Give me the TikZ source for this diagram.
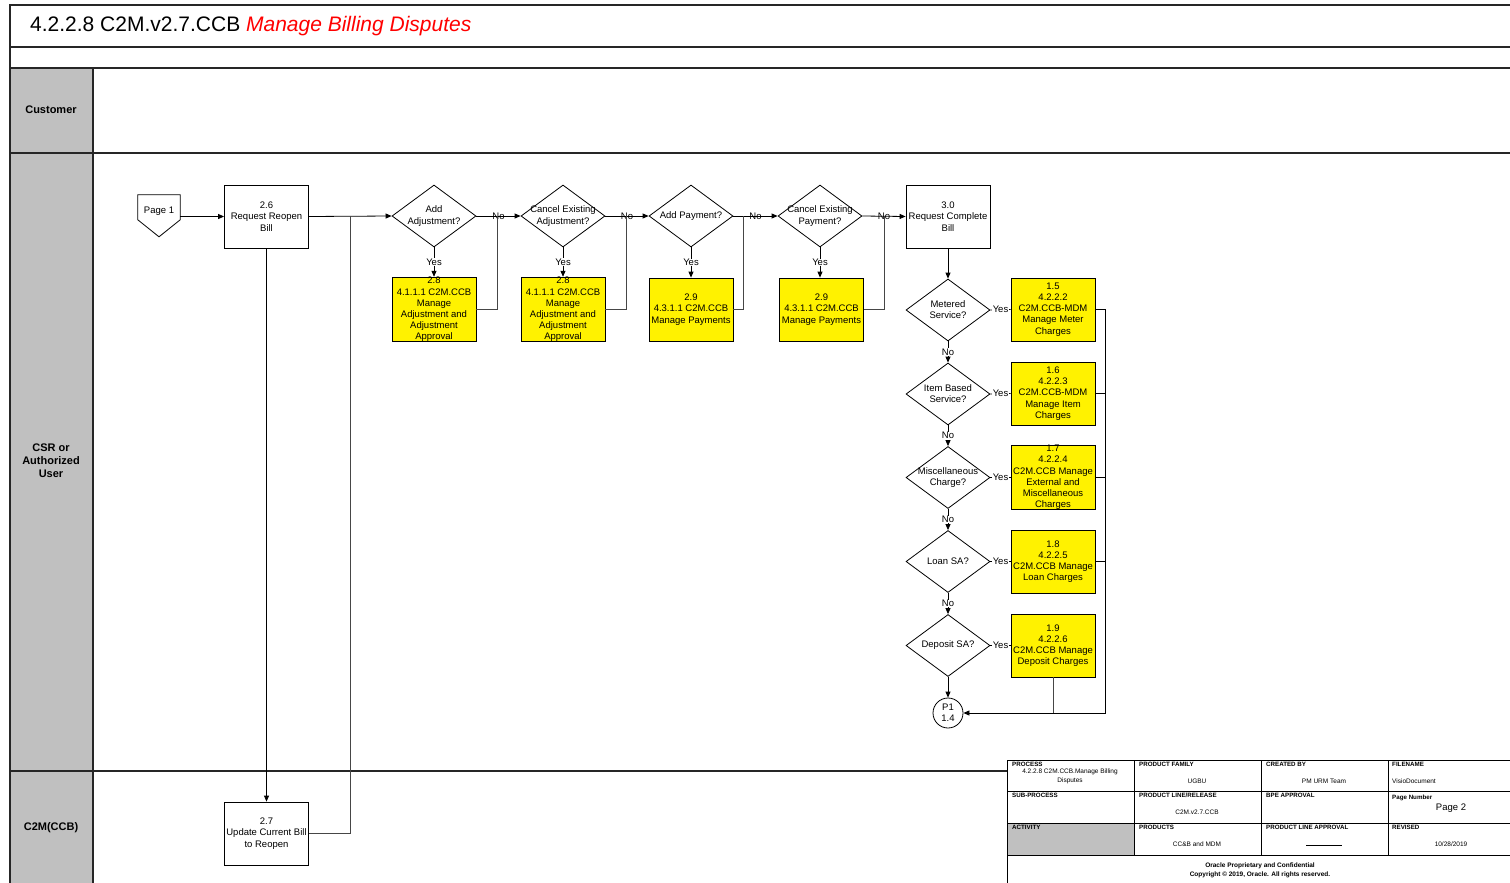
\documentclass[tikz,border=0pt]{standalone}
\usepackage{fontspec}
\setmainfont{Liberation Sans}
\usetikzlibrary{shapes.geometric,arrows.meta,calc}
\definecolor{lanegray}{RGB}{192,192,192}
\definecolor{linegray}{RGB}{70,70,70}
\tikzset{
  frame/.style={line width=1.2pt, draw=black!85},
  procbox/.style={draw, fill=white, line width=0.8pt, minimum width=84pt, minimum height=63pt, inner sep=0pt, align=center, font=\fontsize{9.5}{11.2}\selectfont},
  subbox/.style={procbox, fill=yellow},
  decision/.style={draw, diamond, fill=white, line width=0.8pt, aspect=1.355, minimum width=84pt, minimum height=62pt, inner sep=-3pt, align=center, font=\fontsize{9.5}{11.2}\selectfont},
  flow/.style={-{Triangle[length=6pt,width=5pt]}, line width=0.8pt},
  back/.style={line width=0.9pt, draw=linegray},
  lbl/.style={font=\fontsize{9.5}{11.2}\selectfont, inner sep=0.5pt},
  lane/.style={font=\fontsize{11}{13}\selectfont\bfseries, align=center},
  tbl/.style={line width=0.7pt},
  cellhead/.style={font=\fontsize{6.2}{7}\selectfont\bfseries, anchor=north west, inner sep=0pt},
  cell/.style={font=\fontsize{6.5}{9}\selectfont, inner sep=0pt, align=center}
}
\begin{document}
\begin{tikzpicture}[x=1pt, y=-1pt]
\useasboundingbox (0,0) rectangle (1510,883);
% swimlanes
\fill[lanegray] (10,68) rectangle (93,883);
\draw[frame] (1510,5) -- (10,5) -- (10,883);
\draw[frame] (10,47) -- (1510,47);
\draw[frame] (10,68) -- (1510,68);
\draw[frame] (10,153) -- (1510,153);
\draw[frame] (10,771) -- (1510,771);
\draw[frame] (93,68) -- (93,883);
\node[anchor=west, inner sep=0pt, font=\fontsize{21}{24}\selectfont] (title) at (30,26) {4.2.2.8 C2M.v2.7.CCB \textcolor{red}{\itshape Manage Billing Disputes}};
\node[lane] (custlane) at (51,110) {Customer};
\node[lane] (csrlane) at (51,461) {CSR or\\Authorized\\User};
\node[lane] (ccblane) at (51,828) {C2M(CCB)};

% first row
\node[minimum width=42pt, minimum height=32pt, inner sep=0pt, font=\fontsize{9.5}{11.2}\selectfont] (page1) at (159,211) {Page 1};
\draw[line width=0.8pt] (page1.north west) -- (page1.north east) -- ++(0,25) -- ($(page1.north)+(0,42)$) -- ($(page1.north west)+(0,25)$) -- cycle;
\node[procbox] (reopen) at (266.5,216.5) {2.6\\Request Reopen\\Bill};
\node[decision] (addadj) at (434,216) {Add\\Adjustment?};
\node[subbox] (adjbox1) at (434,309.5) {2.8\\4.1.1.1 C2M.CCB\\Manage\\Adjustment and\\Adjustment\\Approval};
\node[decision] (canadj) at (563,216) {Cancel Existing\\Adjustment?};
\node[subbox] (adjbox2) at (563,309.5) {2.8\\4.1.1.1 C2M.CCB\\Manage\\Adjustment and\\Adjustment\\Approval};
\node[decision] (addpay) at (691,216) {Add Payment?};
\node[subbox] (paybox1) at (691,309.5) {2.9\\4.3.1.1 C2M.CCB\\Manage Payments};
\node[decision] (canpay) at (820,216) {Cancel Existing\\Payment?};
\node[subbox] (paybox2) at (821.5,309.5) {2.9\\4.3.1.1 C2M.CCB\\Manage Payments};
\node[procbox] (complete) at (948,216.5) {3.0\\Request Complete\\Bill};

% charge checks
\node[decision] (metered) at (948,310) {Metered\\Service?};
\node[subbox] (meterbox) at (1053,309.5) {1.5\\4.2.2.2\\C2M.CCB-MDM\\Manage Meter\\Charges};
\node[decision] (itemsvc) at (948,394) {Item Based\\Service?};
\node[subbox] (itembox) at (1053,393.5) {1.6\\4.2.2.3\\C2M.CCB-MDM\\Manage Item\\Charges};
\node[decision] (misc) at (948,477.5) {Miscellaneous\\Charge?};
\node[subbox] (miscbox) at (1053,477.5) {1.7\\4.2.2.4\\C2M.CCB Manage\\External and\\Miscellaneous\\Charges};
\node[decision] (loan) at (948,561.5) {Loan SA?};
\node[subbox] (loanbox) at (1053,561.5) {1.8\\4.2.2.5\\C2M.CCB Manage\\Loan Charges};
\node[decision] (deposit) at (948,645.5) {Deposit SA?};
\node[subbox] (depbox) at (1053,645.5) {1.9\\4.2.2.6\\C2M.CCB Manage\\Deposit Charges};
\node[circle, draw, fill=white, line width=0.8pt, minimum size=30pt, inner sep=0pt, align=center, font=\fontsize{9.5}{11.2}\selectfont] (p1) at (948,713) {P1\\1.4};

\node[procbox] (update) at (266.5,833.5) {2.7\\Update Current Bill\\to Reopen};

% junctions
\coordinate (j0) at (350,216);
\coordinate (j1) at (497,216);
\coordinate (j2) at (626,216);
\coordinate (j3) at (743,216);
\coordinate (j4) at (884,216);
\coordinate (rj) at (1105,713);

% connectors
\draw[flow] (page1.east |- reopen.west) -- (reopen.west);
\draw[flow] (reopen.east) -- (addadj.west);
\draw[flow] (reopen.south) -- (update.north);
\draw[back] (update.east) -| (j0);
\draw[flow] (addadj.south) -- node[lbl, fill=white] {Yes} (adjbox1.north);
\draw[flow] (addadj.east) -- node[lbl] {No} (canadj.west);
\draw[back] (adjbox1.east) -| (j1);
\draw[flow] (canadj.south) -- node[lbl, fill=white] {Yes} (adjbox2.north);
\draw[flow] (canadj.east) -- node[lbl] {No} (addpay.west);
\draw[back] (adjbox2.east) -| (j2);
\draw[flow] (addpay.south) -- node[lbl, fill=white] {Yes} (paybox1.north);
\draw[flow] (addpay.east) -- node[lbl] {No} (canpay.west);
\draw[back] (paybox1.east) -| (j3);
\draw[flow] (canpay.south) -- node[lbl, fill=white] {Yes} (paybox1.north -| canpay.south);
\draw[flow] (canpay.east) -- node[lbl] {No} (complete.west);
\draw[back] (paybox2.east) -| (j4);
\draw[flow] (complete.south) -- (metered.north);
\draw[line width=0.8pt] (metered.east) -- node[lbl, fill=white] {Yes} (meterbox.west);
\draw[flow] (metered.south) -- node[lbl, fill=white] {No} (itemsvc.north);
\draw[line width=0.8pt] (itemsvc.east) -- node[lbl, fill=white] {Yes} (itembox.west);
\draw[flow] (itemsvc.south) -- node[lbl, fill=white] {No} (misc.north);
\draw[line width=0.8pt] (misc.east) -- node[lbl, fill=white] {Yes} (miscbox.west);
\draw[flow] (misc.south) -- node[lbl, fill=white] {No} (loan.north);
\draw[line width=0.8pt] (loan.east) -- node[lbl, fill=white] {Yes} (loanbox.west);
\draw[flow] (loan.south) -- node[lbl, fill=white] {No} (deposit.north);
\draw[line width=0.8pt] (deposit.east) -- node[lbl, fill=white] {Yes} (depbox.west);
\draw[flow] (deposit.south) -- (p1.north);
\draw[flow] (meterbox.east) -| (rj) -- (p1.east);
\draw[line width=0.8pt] (itembox.east) -- (itembox.east -| rj);
\draw[line width=0.8pt] (miscbox.east) -- (miscbox.east -| rj);
\draw[line width=0.8pt] (loanbox.east) -- (loanbox.east -| rj);
\draw[back] (depbox.south) -- (depbox.south |- rj);

% title block
\fill[white] (1007,760) rectangle (1510,883);
\fill[lanegray] (1007,823) rectangle (1134,855);
\draw[tbl] (1510,760) -- (1007,760) -- (1007,883);
\foreach \y in {791,823,855} \draw[tbl] (1007,\y) -- (1510,\y);
\foreach \x in {1134,1261,1388} \draw[tbl] (\x,760) -- (\x,855);
\node[cellhead] (hproc) at (1012,762) {PROCESS};
\node[cellhead] (hfam) at (1139,762) {PRODUCT FAMILY};
\node[cellhead] (hby) at (1266,762) {CREATED BY};
\node[cellhead] (hfile) at (1392,762) {FILENAME};
\node[cellhead] (hsub) at (1012,793) {SUB-PROCESS};
\node[cellhead] (hline) at (1139,793) {PRODUCT LINE/RELEASE};
\node[cellhead] (hbpe) at (1266,793) {BPE APPROVAL};
\node[cellhead] (hpage) at (1392,795) {Page Number};
\node[cellhead] (hact) at (1012,825) {ACTIVITY};
\node[cellhead] (hprod) at (1139,825) {PRODUCTS};
\node[cellhead] (happr) at (1266,825) {PRODUCT LINE APPROVAL};
\node[cellhead] (hrev) at (1392,825) {REVISED};
\node[cell] (vproc) at (1070,776) {4.2.2.8 C2M.CCB.Manage Billing\\Disputes};
\node[cell] (vfam) at (1197,781) {UGBU};
\node[cell] (vby) at (1324,781) {PM URM Team};
\node[cell, anchor=west] (vfile) at (1392,781) {VisioDocument};
\node[cell] (vline) at (1197,812) {C2M.v2.7.CCB};
\node[cell, font=\fontsize{9.5}{11}\selectfont] (vpage) at (1451,808) {Page 2};
\node[cell] (vprod) at (1197,844) {CC\&B and MDM};
\node[cell] (vappr) at (1324,845) {\rule[-0.5pt]{36pt}{0.4pt}};
\node[cell] (vrev) at (1451,844) {10/28/2019};
\node[cell, font=\fontsize{6.5}{9}\selectfont\bfseries] (vconf) at (1260,870.5) {Oracle Proprietary and Confidential\\Copyright \textcopyright{} 2019, Oracle. All rights reserved.};
\end{tikzpicture}
\end{document}
